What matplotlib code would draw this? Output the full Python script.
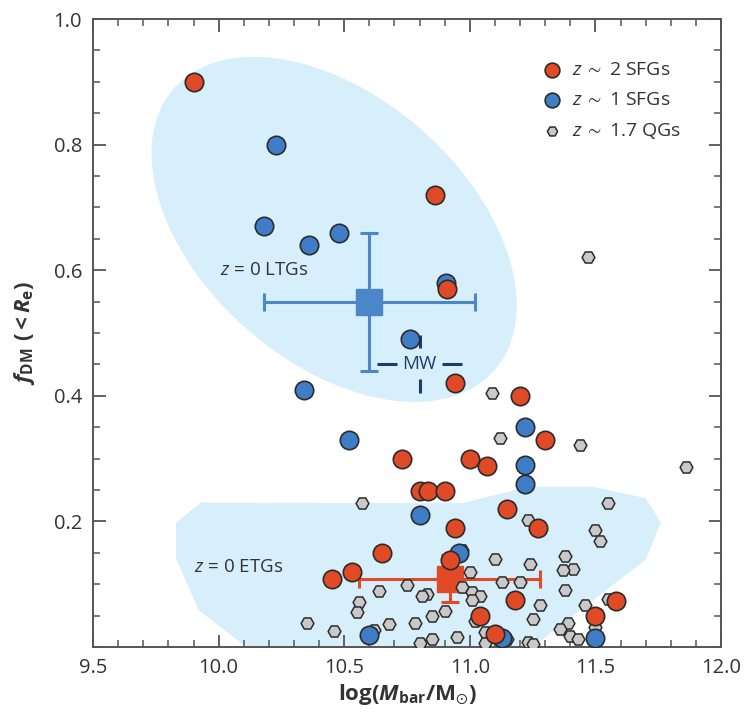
import numpy as np
import matplotlib
matplotlib.use("Agg")
import matplotlib.pyplot as plt
from matplotlib.ticker import MultipleLocator, FixedLocator

plt.rcParams["font.family"] = ["Open Sans", "DejaVu Sans"]
plt.rcParams["mathtext.fontset"] = "custom"
plt.rcParams["mathtext.rm"] = "Open Sans"
plt.rcParams["mathtext.it"] = "Open Sans:italic"
plt.rcParams["mathtext.bf"] = "Open Sans:bold"
plt.rcParams["mathtext.bfit"] = "Open Sans:italic:bold"
plt.rcParams["mathtext.fallback"] = "stixsans"

# z ~ 2 star-forming galaxies
sfg2_x = [9.90, 10.86, 10.91, 10.94, 11.20, 11.30, 10.73, 11.00, 11.07, 10.80,
          10.835, 10.90, 11.15, 10.94, 11.27, 10.65, 10.92, 10.53, 10.45, 11.18,
          11.58, 11.04, 11.50, 11.10]
sfg2_y = [0.90, 0.72, 0.57, 0.42, 0.40, 0.33, 0.30, 0.30, 0.289, 0.249,
          0.249, 0.249, 0.219, 0.189, 0.189, 0.149, 0.139, 0.119, 0.109, 0.075,
          0.074, 0.049, 0.049, 0.020]

# z ~ 1 star-forming galaxies
sfg1_x = [10.23, 10.18, 10.36, 10.48, 10.905, 10.76, 10.34, 10.52, 11.22, 11.22,
          11.22, 10.80, 10.955, 10.60, 11.13, 11.50]
sfg1_y = [0.80, 0.67, 0.64, 0.66, 0.58, 0.49, 0.41, 0.33, 0.35, 0.29,
          0.26, 0.21, 0.15, 0.019, 0.014, 0.014]

# z ~ 1.7 quiescent galaxies
qg_x = [11.09, 11.12, 11.44, 11.86, 11.47, 11.55, 10.57, 11.23, 11.50, 11.52,
        11.38, 11.10, 11.24, 11.41, 11.37, 11.00, 10.97, 10.75, 10.64, 10.83,
        10.81, 10.97, 11.01, 11.04, 11.01, 11.13, 11.20, 11.38, 10.56, 10.55,
        10.90, 10.85, 11.28, 11.46, 11.55, 10.68, 10.78, 11.25, 11.39, 11.36,
        11.02, 11.50, 11.40, 11.43, 10.85, 10.80, 10.95, 11.06, 11.15, 11.23,
        11.25, 10.35, 10.46, 10.62, 11.06, 11.14]
qg_y = [0.405, 0.333, 0.322, 0.286, 0.621, 0.230, 0.230, 0.202, 0.186, 0.169,
        0.145, 0.140, 0.132, 0.124, 0.122, 0.120, 0.154, 0.098, 0.089, 0.085,
        0.082, 0.095, 0.087, 0.082, 0.075, 0.103, 0.103, 0.090, 0.072, 0.055,
        0.058, 0.050, 0.067, 0.067, 0.076, 0.037, 0.038, 0.045, 0.039, 0.028,
        0.041, 0.032, 0.018, 0.013, 0.012, 0.007, 0.016, 0.024, 0.012, 0.008,
        0.005, 0.039, 0.025, 0.027, 0.006, 0.014]

# z = 0 reference samples (mean and spread)
ltg_mean = (10.60, 0.55)
ltg_xerr = 0.42
ltg_yerr = 0.11
etg_mean = (10.92, 0.109)
etg_xerr = 0.36
etg_yerr = 0.038

# Milky Way
mw = (10.80, 0.451)
mw_xerr = (0.09, 0.17)   # inner gap, outer end
mw_yerr = (0.025, 0.046)

# LTG region (ellipse: centre, x/y half-extent, covariance term)
ltg_ell_c = (10.46, 0.665)
ltg_ell_wx = 0.727
ltg_ell_hy = 0.2747
ltg_ell_sxy = -0.088

# ETG region outline
etg_reg_x = [9.83, 9.93, 10.82, 10.97, 11.23, 11.49, 11.70, 11.76, 11.70, 11.25,
             10.11, 9.92, 9.83]
etg_reg_y = [0.198, 0.230, 0.229, 0.229, 0.255, 0.255, 0.237, 0.198, 0.139, 0.0,
             0.0, 0.059, 0.142]

x_ticks = [9.5, 10.0, 10.5, 11.0, 11.5, 12.0]
y_ticks = [0.2, 0.4, 0.6, 0.8, 1.0]

RED = "#e04a26"
BLUE = "#3f7ec6"
GRAY = "#c9c9c9"
EDGE = "#2b2b2b"
SHADE = "#d7effb"
NAVY = "#1d3c6a"
TXT = "#333333"

fig = plt.figure(figsize=(7.46, 7.15), dpi=100)
ax = fig.add_axes([0.1247, 0.0951, 0.8418, 0.8783])

# shaded z = 0 regions
t = np.linspace(0, 2 * np.pi, 300)
b = ltg_ell_sxy / ltg_ell_wx
ex = ltg_ell_c[0] + ltg_ell_wx * np.cos(t)
ey = ltg_ell_c[1] + b * np.cos(t) + np.sqrt(ltg_ell_hy ** 2 - b ** 2) * np.sin(t)
ax.fill(ex, ey, color=SHADE, lw=0, zorder=0)
ax.fill(etg_reg_x, etg_reg_y, color=SHADE, lw=0, zorder=0)

# MW marker
mx, my = mw
kw = dict(color=NAVY, lw=2.2, solid_capstyle="butt", zorder=2)
ax.plot([mx - mw_xerr[1], mx - mw_xerr[0]], [my, my], **kw)
ax.plot([mx + mw_xerr[0], mx + mw_xerr[1]], [my, my], **kw)
ax.plot([mx, mx], [my + mw_yerr[0], my + mw_yerr[1]], **kw)
ax.plot([mx, mx], [my - mw_yerr[1], my - mw_yerr[0]], **kw)
ax.text(mx, my, "MW", color=NAVY, fontsize=13.5, ha="center", va="center", zorder=2)

# means with error bars
ax.errorbar([ltg_mean[0]], [ltg_mean[1]], xerr=ltg_xerr, yerr=ltg_yerr, fmt="s",
            color="#4a86c8", ms=19, lw=2.2, capsize=6.5, capthick=2.2, zorder=2)
ax.errorbar([etg_mean[0]], [etg_mean[1]], xerr=etg_xerr, yerr=etg_yerr, fmt="s",
            color=RED, ms=18.5, lw=2.2, capsize=6.5, capthick=2.2, zorder=2)

# galaxies
ax.scatter(qg_x, qg_y, s=85, marker="H", c=GRAY, edgecolors=EDGE, linewidths=1.1,
           zorder=3, label=r"$z\,\sim$ 1.7 QGs")
ax.scatter(sfg1_x, sfg1_y, s=175, marker="o", c=BLUE, edgecolors=EDGE, linewidths=1.2,
           zorder=4, label=r"$z\,\sim$ 1 SFGs")
ax.scatter(sfg2_x, sfg2_y, s=175, marker="o", c=RED, edgecolors=EDGE, linewidths=1.2,
           zorder=5, label=r"$z\,\sim$ 2 SFGs")

ax.text(10.006, 0.600, r"$z$ = 0 LTGs", fontsize=13.5, color=TXT, ha="left", va="center")
ax.text(9.902, 0.127, r"$z$ = 0 ETGs", fontsize=13.5, color=TXT, ha="left", va="center")

# legend
h, l = ax.get_legend_handles_labels()
leg = ax.legend(h[::-1], l[::-1], loc="upper left", frameon=False, fontsize=14,
                handlelength=1.0, handletextpad=0.5, borderpad=0, borderaxespad=0,
                labelspacing=0.62, bbox_to_anchor=(0.716, 0.933), markerscale=0.8)
for txt in leg.get_texts():
    txt.set_color(TXT)

ax.set_xlim(9.5, 12.0)
ax.set_ylim(0.0, 1.0)
ax.xaxis.set_major_locator(FixedLocator(x_ticks))
ax.xaxis.set_minor_locator(MultipleLocator(0.1))
ax.yaxis.set_major_locator(FixedLocator(y_ticks))
ax.yaxis.set_minor_locator(MultipleLocator(0.05))
ax.set_xticklabels([f"{v:.1f}" for v in x_ticks])
ax.set_yticklabels([f"{v:.1f}" for v in y_ticks])
ax.tick_params(which="both", direction="in", top=True, right=True, color="#555555",
               labelcolor=TXT, labelsize=14.5)
ax.tick_params(which="major", length=9, width=1.3, pad=8)
ax.tick_params(which="minor", length=5, width=1.1)
for sp in ax.spines.values():
    sp.set_color("#555555")
    sp.set_linewidth(1.4)

ax.set_xlabel(r"$\mathbf{log(}\mathbfit{M}_{\mathbf{bar}}\mathbf{/M}_{\odot}\mathbf{)}$",
              fontsize=16, color=TXT, labelpad=3)
ax.set_ylabel(r"$\mathbfit{f}_{\mathbf{DM}}\ \mathbf{(<}\mathbfit{R}_{\mathbf{e}}\mathbf{)}$",
              fontsize=16, color=TXT, labelpad=12)

fig.savefig("out.png", dpi=100)
